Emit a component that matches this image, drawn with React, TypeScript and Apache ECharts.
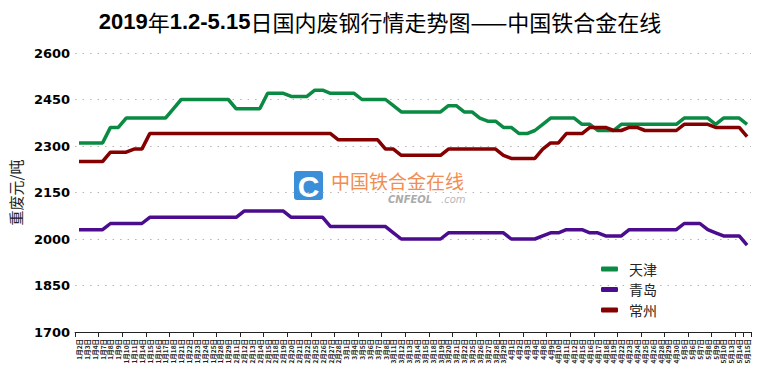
import React, { useEffect, useRef } from "react";
import * as echarts from "echarts";

const dates: string[] = [
  "1月2日","1月3日","1月4日","1月7日","1月8日","1月9日","1月10日","1月11日","1月14日","1月15日",
  "1月16日","1月17日","1月18日","1月21日","1月22日","1月23日","1月24日","1月25日","1月28日","1月29日",
  "2月11日","2月12日","2月13日","2月14日","2月15日","2月18日","2月19日","2月20日","2月21日","2月22日",
  "2月25日","2月26日","2月27日","2月28日",
  "3月1日","3月4日","3月5日","3月6日","3月7日","3月8日","3月11日","3月12日","3月13日","3月14日",
  "3月15日","3月18日","3月19日","3月20日","3月21日","3月22日","3月25日","3月26日","3月27日","3月28日","3月29日",
  "4月1日","4月2日","4月3日","4月4日","4月8日","4月9日","4月10日","4月11日","4月12日","4月15日",
  "4月16日","4月17日","4月18日","4月19日","4月22日","4月23日","4月24日","4月25日","4月26日","4月28日",
  "4月29日","4月30日",
  "5月5日","5月6日","5月7日","5月8日","5月9日","5月10日","5月13日","5月14日","5月15日",
];

const tianjin: number[] = [
  2310,2310,2310,2310,2360,2360,2390,2390,2390,2390,
  2390,2390,2420,2450,2450,2450,2450,2450,2450,2450,
  2420,2420,2420,2420,2470,2470,2470,2460,2460,2460,
  2480,2480,2470,2470,2470,2470,2450,2450,2450,2450,
  2430,2410,2410,2410,2410,2410,2410,2430,2430,2410,
  2410,2390,2380,2380,2360,2360,2340,2340,2350,2370,
  2390,2390,2390,2390,2370,2370,2350,2350,2350,2370,
  2370,2370,2370,2370,2370,2370,2370,2390,2390,2390,
  2390,2370,2390,2390,2390,2370,
];

const qingdao: number[] = [
  2030,2030,2030,2030,2050,2050,2050,2050,2050,2070,
  2070,2070,2070,2070,2070,2070,2070,2070,2070,2070,
  2070,2090,2090,2090,2090,2090,2090,2070,2070,2070,
  2070,2070,2040,2040,2040,2040,2040,2040,2040,2040,
  2020,2000,2000,2000,2000,2000,2000,2020,2020,2020,
  2020,2020,2020,2020,2020,2000,2000,2000,2000,2010,
  2020,2020,2030,2030,2030,2020,2020,2010,2010,2010,
  2030,2030,2030,2030,2030,2030,2030,2050,2050,2050,
  2030,2020,2010,2010,2010,1980,
];

const changzhou: number[] = [
  2250,2250,2250,2250,2280,2280,2280,2290,2290,2340,
  2340,2340,2340,2340,2340,2340,2340,2340,2340,2340,
  2340,2340,2340,2340,2340,2340,2340,2340,2340,2340,
  2340,2340,2340,2320,2320,2320,2320,2320,2320,2290,
  2290,2270,2270,2270,2270,2270,2270,2290,2290,2290,
  2290,2290,2290,2290,2270,2260,2260,2260,2260,2290,
  2310,2310,2340,2340,2340,2360,2360,2360,2350,2350,
  2360,2360,2350,2350,2350,2350,2350,2370,2370,2370,
  2370,2360,2360,2360,2360,2330,
];

const seriesNames = ["天津", "青岛", "常州"];
const seriesColors = ["#0b8a43", "#4b0c8e", "#850000"];

export default function App() {
  const ref = useRef<HTMLDivElement>(null);
  useEffect(() => {
    if (!ref.current) return;
    const chart = echarts.init(ref.current, undefined, { renderer: "svg" });
    const cjk = "'Noto Sans CJK SC', 'Noto Sans', sans-serif";
    const datas = [tianjin, qingdao, changzhou];
    chart.setOption({
      animation: false,
      backgroundColor: "#ffffff",
      title: {
        text: "{a|2019}{b|年}{a|1.2-5.15}{b|日国内废钢行情走势图——中国铁合金在线}",
        left: "center",
        top: 5,
        textStyle: {
          rich: {
            a: { fontSize: 22, fontWeight: "bold", fontFamily: "'Liberation Sans', Arial, sans-serif", color: "#000" },
            b: { fontSize: 22, fontWeight: "normal", fontFamily: cjk, color: "#000" },
          },
        },
      },
      legend: {
        orient: "vertical",
        left: 596,
        top: 257,
        itemWidth: 17,
        itemHeight: 5,
        itemGap: 6.5,
        icon: "roundRect",
        data: seriesNames,
        textStyle: { fontSize: 14, color: "#222", fontFamily: cjk, padding: [0, 0, 0, 6] },
      },
      grid: { left: 70, right: 9, top: 53, bottom: 41 },
      xAxis: {
        type: "category",
        data: dates,
        boundaryGap: true,
        axisLine: { show: true, lineStyle: { color: "#222", width: 1 } },
        axisTick: { show: true, interval: 2, length: 5, lineStyle: { color: "#222" } },
        axisLabel: {
          interval: 0,
          rotate: 90,
          fontSize: 6.5,
          fontWeight: "bold",
          color: "#222",
          margin: 7,
          fontFamily: cjk,
        },
        splitLine: { show: false },
      },
      yAxis: {
        type: "value",
        min: 1700,
        max: 2600,
        interval: 150,
        name: "重废元/吨",
        nameLocation: "middle",
        nameRotate: 90,
        nameGap: 47,
        nameTextStyle: { fontSize: 15, color: "#222", fontFamily: cjk },
        axisLine: { show: false },
        axisTick: { show: false },
        axisLabel: {
          fontSize: 13,
          fontWeight: "bold",
          color: "#000",
          fontFamily: "'DejaVu Sans', sans-serif",
          margin: 5,
          formatter: (v: number) => String(v),
        },
        splitLine: { show: true, lineStyle: { color: "#b5b5b5", width: 1, type: [1.5, 6] } },
      },
      graphic: [
        {
          type: "rect",
          shape: { x: 294, y: 171, width: 29, height: 29, r: 3 },
          style: { fill: "#3b8fd9" },
          z: 0,
        },
        {
          type: "text",
          x: 308.5,
          y: 186,
          style: {
            text: "C",
            fill: "#ffffff",
            fontSize: 30,
            fontWeight: "bold",
            fontFamily: "'Liberation Sans', Arial, sans-serif",
            align: "center",
            verticalAlign: "middle",
          },
          z: 1,
        },
        {
          type: "text",
          x: 331,
          y: 180,
          style: {
            text: "中国铁合金在线",
            fill: "#f28d52",
            fontSize: 19,
            lineHeight: 19,
            fontFamily: cjk,
            verticalAlign: "middle",
          },
          z: 1,
        },
        {
          type: "text",
          x: 388,
          y: 199,
          style: {
            text: "CNFEOL",
            fill: "#ababab",
            fontSize: 10,
            lineHeight: 10,
            fontWeight: "bold",
            fontStyle: "italic",
            fontFamily: "'DejaVu Sans', sans-serif",
            verticalAlign: "middle",
          },
          z: 1,
        },
        {
          type: "text",
          x: 441,
          y: 199,
          style: {
            text: ".com",
            fill: "#b8b8b8",
            fontSize: 10,
            lineHeight: 10,
            fontStyle: "italic",
            fontFamily: "'DejaVu Sans', sans-serif",
            verticalAlign: "middle",
          },
          z: 1,
        },
      ],
      series: seriesNames.map((name, i) => ({
        name,
        type: "line",
        data: datas[i],
        symbol: "none",
        lineStyle: { width: 3.5, color: seriesColors[i] },
        itemStyle: { color: seriesColors[i] },
        z: 3,
      })),
    });
    return () => chart.dispose();
  }, []);
  return (
    <div
      ref={ref}
      style={{ position: "fixed", left: 0, top: 0, width: 760, height: 373 }}
    />
  );
}
